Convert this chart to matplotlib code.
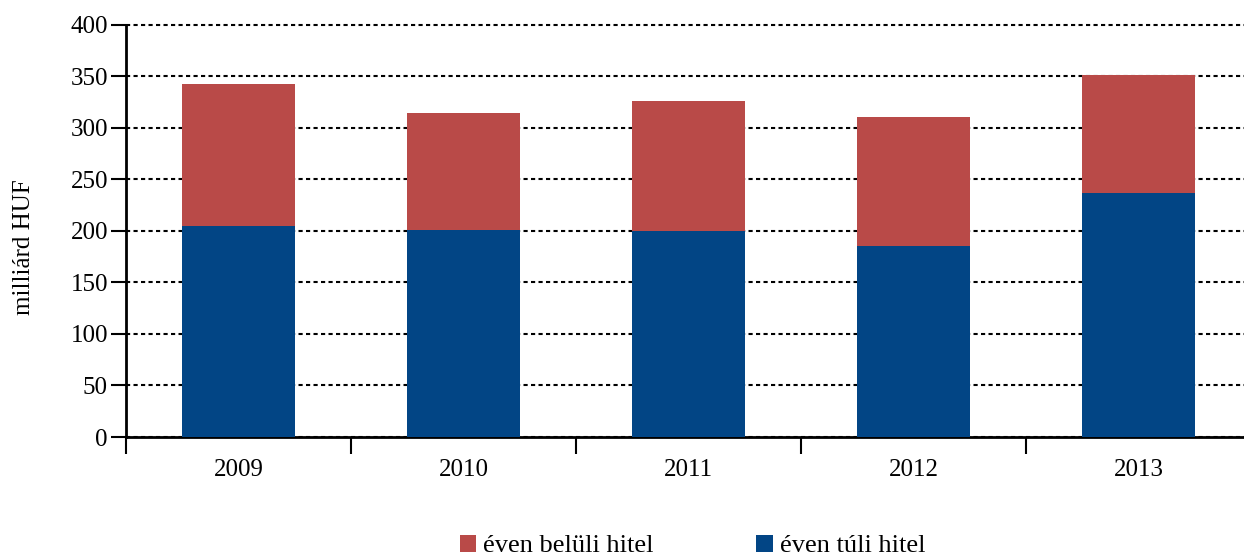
import matplotlib.pyplot as plt
import numpy as np

# adatok (milliárd HUF)
evek = ["2009", "2010", "2011", "2012", "2013"]
even_tuli = [205, 201, 200, 185.5, 237]
even_beluli = [137.5, 113.5, 126, 125, 114.5]

piros = "#B94A48"
kek = "#024585"

plt.rcParams["font.family"] = ["Liberation Serif", "DejaVu Serif"]
plt.rcParams["font.size"] = 18

fig = plt.figure(figsize=(12.44, 5.56), dpi=100)
ax = fig.add_axes([126 / 1244, 1 - 437 / 556, 1125 / 1244, 412.5 / 556])

x = np.arange(len(evek))
ax.bar(x, even_tuli, width=0.5, color=kek, label="éven túli hitel", zorder=3)
ax.bar(x, even_beluli, width=0.5, bottom=even_tuli, color=piros,
       label="éven belüli hitel", zorder=3)

ax.set_xlim(-0.5, len(evek) - 0.5)
ax.set_ylim(0, 400)
ax.set_yticks(np.arange(0, 401, 50))
ax.yaxis.grid(True, linestyle=(0, (2, 1.6)), color="black", linewidth=1.5, zorder=0)
ax.set_axisbelow(True)
for gl in ax.get_ygridlines():
    gl.set_clip_on(False)

# kategória-határok tick jelölése
ax.set_xticks(np.arange(-0.5, len(evek), 1))
ax.set_xticklabels([])
ax.set_xticks(x, minor=True)
ax.set_xticklabels(evek, minor=True)
ax.tick_params(axis="x", which="major", direction="out", length=12, width=1.5)
ax.tick_params(axis="x", which="minor", length=0, pad=16)
ax.tick_params(axis="y", direction="out", length=11, width=1.5, pad=2)

for side in ["top", "right"]:
    ax.spines[side].set_visible(False)
ax.spines["left"].set_linewidth(2)
ax.spines["bottom"].set_linewidth(2)

ax.set_ylabel("milliárd HUF")
ax.yaxis.set_label_coords(-0.081, 0.46)

handles, labels = ax.get_legend_handles_labels()
fig.legend(handles[::-1], labels[::-1], loc="center", bbox_to_anchor=(0.5567, 0.018),
           ncol=2, frameon=False, handlelength=0.62, handleheight=0.62,
           handletextpad=0.27, columnspacing=3.9, fontsize=19,
           borderpad=0, borderaxespad=0)

fig.savefig("out.png", dpi=100)
